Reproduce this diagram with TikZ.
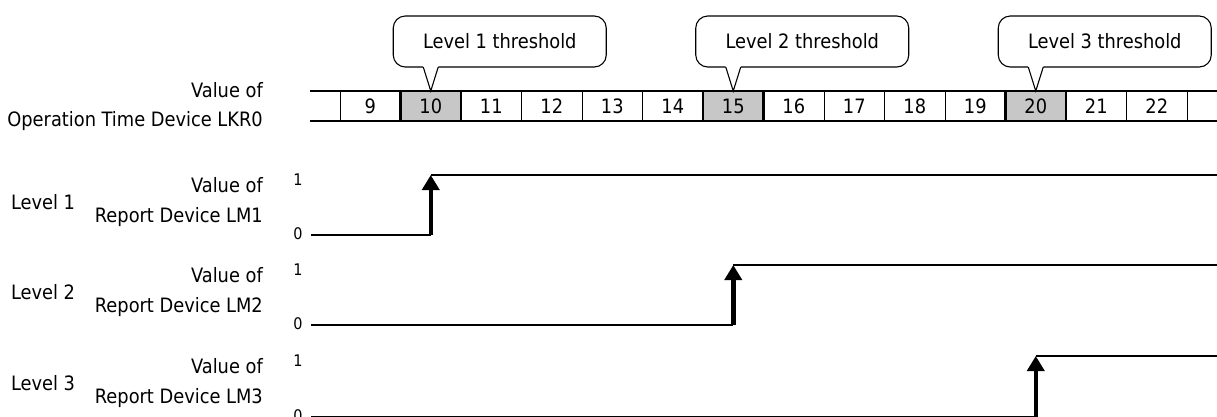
\documentclass[tikz,border=0pt]{standalone}
\usepackage{fontspec}
\IfFontExistsTF{DejaVu Sans Condensed}{\setmainfont{DejaVu Sans Condensed}}{\setmainfont{DejaVu Sans}}
\usetikzlibrary{arrows.meta,calc,positioning}

\begin{document}
\begin{tikzpicture}[x=1pt,y=-1pt,font=\fontsize{19.8}{24}\selectfont,
  rowrule/.style={line width=1.5pt},
  cellrule/.style={line width=0.9pt},
  hitrule/.style={line width=2.8pt},
  sig/.style={line width=2.2pt},
  rise/.style={line width=4.5pt,-{Triangle[length=15pt,width=17pt]}},
  callout/.style={draw,line width=1.1pt,fill=white,rounded corners=12pt,
    minimum width=213pt,minimum height=51pt,inner sep=0pt},
  lab/.style={anchor=east,inner sep=0pt},
  tick/.style={inner sep=0pt,font=\fontsize{16}{18}\selectfont}]
\useasboundingbox (0,0) rectangle (1217,416);
% value row of LKR0
\foreach \n in {10,15,20}
  \fill[black!22] ({340+(\n-9)*60.5},91) rectangle ({400.5+(\n-9)*60.5},121);
\draw[rowrule] (310,91) -- (1230,91);
\draw[rowrule] (310,121) -- (1230,121);
\foreach \k in {0,...,14}
  \draw[cellrule] ({340+\k*60.5},91) -- ({340+\k*60.5},121);
\foreach \n in {10,15,20} {
  \draw[hitrule] ({340+(\n-9)*60.5},91) -- ({340+(\n-9)*60.5},121);
  \draw[hitrule] ({400.5+(\n-9)*60.5},91) -- ({400.5+(\n-9)*60.5},121);
}
\foreach \n in {9,...,22}
  \node (v\n) at ({370.25+(\n-9)*60.5},106) {\n};
\node[lab] (hdrval) at (263,90) {Value of};
\node[lab] (hdrdev) at (263,121) {Operation Time Device LKR0};
% threshold callouts
\foreach \n/\i in {10/1,15/2,20/3} {
  \coordinate (tip\i) at ({370.25+(\n-9)*60.5},91);
  \node[callout] (cap\i) at ($(tip\i)+(69,-49.5)$) {Level \i\ threshold};
  \fill[white] ($(tip\i)+(-8.1,-26)$) -- (tip\i) -- ($(tip\i)+(8.1,-26)$) -- cycle;
  \draw[line width=1.1pt] ($(tip\i)+(-7.5,-24)$) -- (tip\i) -- ($(tip\i)+(7.5,-24)$);
}
% report devices
\foreach \i/\hi/\lo/\n in {1/175/235/10,2/265/325/15,3/356/417/20} {
  \coordinate (lo\i) at (311,\lo);
  \coordinate (step\i) at ({370.25+(\n-9)*60.5},\lo);
  \coordinate (top\i) at ({370.25+(\n-9)*60.5},\hi);
  \coordinate (hi\i) at (1230,\hi);
  \node[inner sep=0pt] (lvl\i) at (43,\hi+27) {Level \i};
  \node[lab] (val\i) at (263,\hi+10) {Value of};
  \node[lab] (rep\i) at (263,\hi+42) {Report Device LM\i};
  \node[tick] (one\i) at (298,\hi+5) {1};
  \node[tick] (zero\i) at (298,\lo-1) {0};
  \draw[sig] (lo\i) -- (step\i);
  \draw[sig] (top\i) -- (hi\i);
  \draw[rise] (step\i) -- (top\i);
}
\end{tikzpicture}
\end{document}
